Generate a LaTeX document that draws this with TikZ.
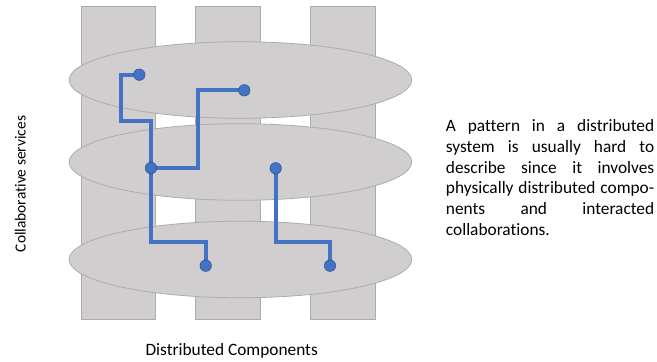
\documentclass[tikz,border=0pt]{standalone}
\usepackage{fontspec}
\setmainfont[Ligatures=NoCommon]{Carlito}
\usetikzlibrary{shapes.geometric}
\definecolor{layergray}{HTML}{D0CECE}
\definecolor{layeredge}{HTML}{AFABAB}
\definecolor{wireblue}{HTML}{4472C4}
\definecolor{dotedge}{HTML}{2F528F}
\pgfdeclarelayer{back}
\pgfdeclarelayer{wires}
\pgfsetlayers{back,wires,main}
\tikzset{
  column/.style={draw=layeredge, line width=0.6pt, fill=layergray, rectangle, inner sep=0pt},
  layer/.style={draw=layeredge, line width=0.6pt, fill=layergray, ellipse, inner sep=0pt,
    minimum width=257pt, minimum height=57.4pt},
  port/.style={circle, fill=wireblue, draw=dotedge, line width=0.4pt, inner sep=0pt, minimum size=8.6pt},
  wire/.style={draw=wireblue, line width=3pt},
  caption/.style={inner sep=0pt}
}
\begin{document}
\begin{tikzpicture}[x=0.75pt, y=-0.75pt]
  \useasboundingbox (0,0) rectangle (657,361);
  \begin{pgfonlayer}{back}
    % component columns
    \node[column, minimum width=56pt, minimum height=235pt] (col1) at (118.3,162.7) {};
    \node[column, minimum width=48.8pt, minimum height=235pt] (col2) at (228.2,162.7) {};
    \node[column, minimum width=48.8pt, minimum height=235pt] (col3) at (342.5,162.7) {};
    % service layers
    \node[layer] (top) at (240.4,80) {};
    \node[layer] (mid) at (240.4,162) {};
    \node[layer] (bot) at (240.4,259.5) {};
  \end{pgfonlayer}
  % ports
  \node[port] (A) at (139.3,74.7) {};
  \node[port] (B) at (244.3,90.3) {};
  \node[port] (C) at (151,168) {};
  \node[port] (D) at (275.7,168.3) {};
  \node[port] (E) at (205.7,265.7) {};
  \node[port] (F) at (330,265.7) {};
  \coordinate (k1) at (121,120.7);
  \coordinate (k2) at (198.3,168);
  % collaborations
  \begin{pgfonlayer}{wires}
    \draw[wire] (A.center) -| (k1) -| (C.center);
    \draw[wire] (B.center) -| (k2) -- (C.center);
    \draw[wire] (C.center) -- ++(0,73.7) -| (E.center);
    \draw[wire] (D.center) -- ++(0,73.4) -| (F.center);
  \end{pgfonlayer}
  % labels
  \node[caption, anchor=base, font=\fontsize{13}{15.5}\selectfont] (xlab) at (231.7,355) {Distributed Components};
  \node[caption, rotate=90, anchor=base, font=\fontsize{11.6}{13}\selectfont] (ylab) at (25.5,184) {Collaborative services};
  \node[caption, anchor=north west, text width=156.2pt, align=justify,
        font=\fontsize{13}{15.5}\selectfont] (note) at (445.7,119.5)
    {A pattern in a distributed\linebreak system is usually hard to\linebreak describe since it involves\linebreak physically distributed compo-\linebreak nents and interacted\linebreak collaborations.};
\end{tikzpicture}
\end{document}
